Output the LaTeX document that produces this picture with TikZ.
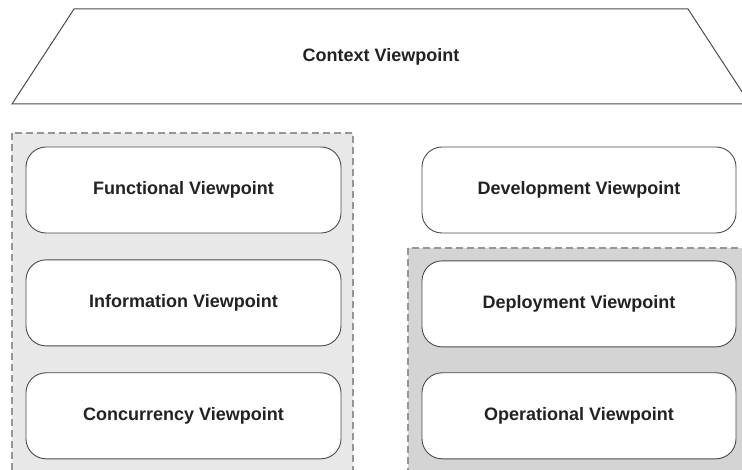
\documentclass[tikz,border=0pt]{standalone}
\usepackage{fontspec}
\setmainfont{Liberation Sans}
\usepackage{tikz}
\usetikzlibrary{positioning}
\definecolor{outlinegray}{RGB}{75,75,75}
\definecolor{dashgray}{RGB}{150,150,150}
\definecolor{groupleft}{RGB}{232,232,232}
\definecolor{groupright}{RGB}{212,212,212}
\definecolor{labelgray}{RGB}{34,34,34}

\tikzset{
    viewbox/.style={draw=outlinegray, fill=white, line width=0.9pt,
        rounded corners=20pt, minimum width=315pt, minimum height=86pt,
        font=\fontsize{18}{20}\selectfont\bfseries, text=labelgray},
    groupbox/.style={draw=dashgray, line width=1.1pt,
        dash pattern=on 7pt off 4pt}
}

\begin{document}
\begin{tikzpicture}[x=1pt, y=-1pt]
    \useasboundingbox (0,0) rectangle (742,470);
    % Context trapezium across the top
    \draw[outlinegray, line width=1pt] (12,104) -- (74,9) -- (688,9) -- (750,104) -- cycle;
    \node[font=\fontsize{18}{20}\selectfont\bfseries, text=labelgray] (context) at (381,57) {Context Viewpoint};
    % Grouping areas
    \filldraw[groupbox, fill=groupleft] (12,133) rectangle (353,490);
    \filldraw[groupbox, fill=groupright] (408,248) rectangle (760,490);
    % Left column
    \node[viewbox] (functional) at (183.5,190) {Functional Viewpoint};
    \node[viewbox, below=26pt of functional] (information) {Information Viewpoint};
    \node[viewbox, below=26pt of information] (concurrency) {Concurrency Viewpoint};
    % Right column
    \node[viewbox, minimum width=314pt] (development) at (579,190) {Development Viewpoint};
    \node[viewbox, minimum width=314pt, below=27pt of development] (deployment) {Deployment Viewpoint};
    \node[viewbox, minimum width=314pt, below=25pt of deployment] (operational) {Operational Viewpoint};
\end{tikzpicture}
\end{document}
